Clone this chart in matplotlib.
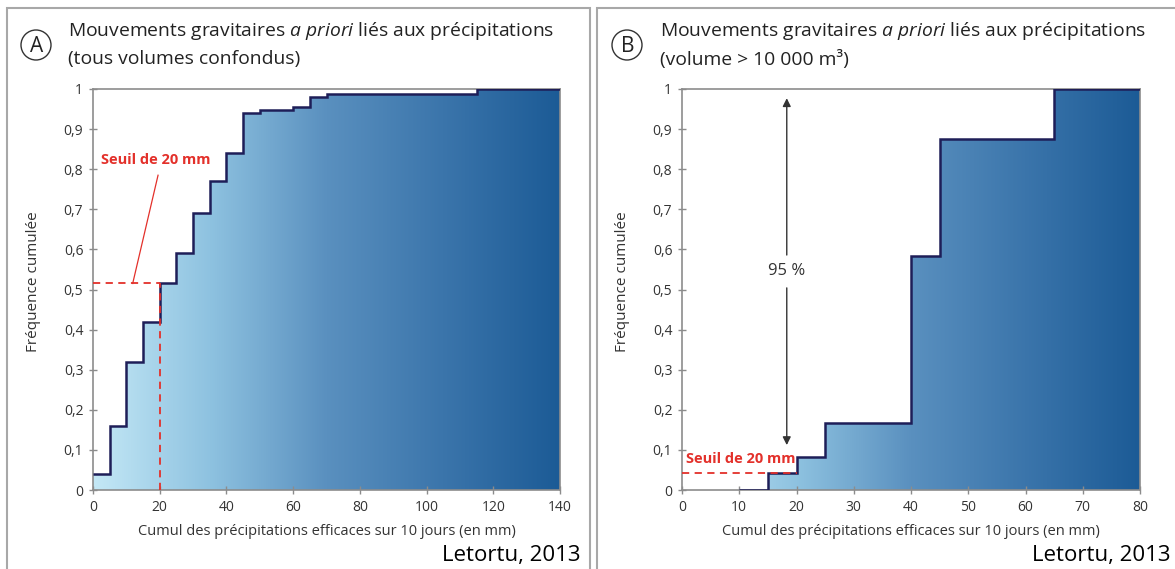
import numpy as np
import matplotlib
matplotlib.use("Agg")
import matplotlib.pyplot as plt
from matplotlib.colors import LinearSegmentedColormap
from matplotlib.patches import Rectangle, Circle

plt.rcParams['font.family'] = ['Open Sans', 'DejaVu Sans']
plt.rcParams['mathtext.fontset'] = 'custom'
plt.rcParams['mathtext.rm'] = 'Open Sans'
plt.rcParams['mathtext.it'] = 'Open Sans:italic'

# ---------------- data ----------------
a_edges = [0, 5, 10, 15, 20, 25, 30, 35, 40, 45, 50, 60, 65, 70, 115, 140]
a_freq = [0.04, 0.16, 0.32, 0.42, 0.515, 0.59, 0.69, 0.77, 0.84, 0.94, 0.947, 0.955, 0.98, 0.987, 1.0]
a_xticks = [0, 20, 40, 60, 80, 100, 120, 140]

b_edges = [10, 15, 20, 25, 40, 45, 65, 80]
b_freq = [0.0, 0.042, 0.083, 0.167, 0.583, 0.875, 1.0]
b_xticks = [0, 10, 20, 30, 40, 50, 60, 70, 80]

yticks = [0, 0.1, 0.2, 0.3, 0.4, 0.5, 0.6, 0.7, 0.8, 0.9, 1]
ytick_labels = ["0", "0,1", "0,2", "0,3", "0,4", "0,5", "0,6", "0,7", "0,8", "0,9", "1"]

threshold = 20

W, H = 1175, 569
fig = plt.figure(figsize=(W / 100, H / 100), dpi=100)
fig.patch.set_facecolor('white')

def px(x, y):
    return x / W, 1 - y / H

cmap = LinearSegmentedColormap.from_list(
    'grad', [(0, '#c4e8f6'), (0.25, '#8ec2e0'), (0.5, '#5a90bf'), (0.75, '#3b75ab'), (1, '#1c5b96')])

GRAY = '#8c8c8c'
TXT = '#333333'
RED = '#e3302a'
NAVY = '#1e1e58'

def make_axes(left_px, right_px, edges, freq, xmax, xticks):
    l, b = px(left_px, 490)
    r, t = px(right_px, 89)
    ax = fig.add_axes([l, b, r - l, t - b])
    ax.set_xlim(0, xmax)
    ax.set_ylim(0, 1)
    grad = np.linspace(0, 1, 256).reshape(1, -1)
    im = ax.imshow(grad, cmap=cmap, extent=[0, xmax, 0, 1], aspect='auto', zorder=1)
    sp = ax.stairs(freq, edges, fill=True, baseline=0, facecolor='none', edgecolor='none')
    im.set_clip_path(sp)
    ax.stairs(freq, edges, baseline=None, color=NAVY, linewidth=1.8, zorder=3)
    for s in ax.spines.values():
        s.set_color(GRAY)
        s.set_linewidth(1.2)
    ax.set_xticks(xticks)
    ax.set_xticklabels([str(v) for v in xticks])
    ax.set_yticks(yticks)
    ax.set_yticklabels(ytick_labels)
    ax.tick_params(direction='inout', length=6, width=1, color=GRAY, labelsize=10,
                   labelcolor=TXT, pad=4)
    ax.set_xlabel("Cumul des précipitations efficaces sur 10 jours (en mm)", fontsize=10.5,
                  color=TXT, labelpad=7)
    ax.set_ylabel("Fréquence cumulée", fontsize=11, color=TXT)
    ax.yaxis.set_label_coords(-52 / (right_px - left_px), 0.52)
    return ax

axA = make_axes(93, 560, a_edges, a_freq, 140, a_xticks)
axB = make_axes(682, 1140, b_edges, b_freq, 80, b_xticks)

# ---- panel A annotations ----
yA20 = a_freq[a_edges.index(threshold)]
axA.plot([0, threshold], [yA20, yA20], color=RED, lw=1.3, ls=(0, (4, 3)), zorder=4)
axA.plot([threshold, threshold], [0, yA20], color=RED, lw=1.3, ls=(0, (4, 3)), zorder=4)
axA.text(18.8, 0.823, "Seuil de 20 mm", color=RED, fontsize=10.5, fontweight='bold',
         ha='center', va='center', zorder=5)
axA.plot([19.5, 11.9], [0.785, yA20], color=RED, lw=0.9, zorder=4)

# ---- panel B annotations ----
axB.annotate("", xy=(18.3, 0.977), xytext=(18.3, 0.586),
             arrowprops=dict(arrowstyle='-|>', color=TXT, lw=1.0, mutation_scale=12,
                             shrinkA=0, shrinkB=0))
axB.annotate("", xy=(18.3, 0.112), xytext=(18.3, 0.504),
             arrowprops=dict(arrowstyle='-|>', color=TXT, lw=1.0, mutation_scale=12,
                             shrinkA=0, shrinkB=0))
axB.text(18.3, 0.545, "95 %", fontsize=12, color=TXT, ha='center', va='center')
axB.plot([0, threshold], [0.043, 0.043], color=RED, lw=1.3, ls=(0, (4, 3)), zorder=4)
axB.text(10.2, 0.078, "Seuil de 20 mm", color=RED, fontsize=10.5, fontweight='bold',
         ha='center', va='center', zorder=5)

# ---- frames, titles ----
for x0, x1 in [(7, 590), (597, 1185)]:
    l, t = px(x0, 8)
    r, b = px(x1, 580)
    fig.patches.append(Rectangle((l, b), r - l, t - b, transform=fig.transFigure,
                                 fill=False, edgecolor='#a8a8a8', lw=1.5))

for letter, cx, tx, sub in [("A", 36, 68, "(tous volumes confondus)"),
                            ("B", 627, 660, "(volume > 10 000 m³)")]:
    cxf, cyf = px(cx + 0.5, 46)
    fig.patches.append(Circle((cx, H - 45), 15, transform=None, fill=False,
                              edgecolor='#333333', lw=1.0))
    fig.text(cxf, cyf, letter, fontsize=15, ha='center', va='center', color='#222222')
    x, y = px(tx, 31)
    fig.text(x, y, r"Mouvements gravitaires $\mathit{a\ priori}$ liés aux précipitations",
             fontsize=13.9, ha='left', va='center', color='#222222')
    x, y = px(tx, 59)
    fig.text(x, y, sub, fontsize=13.9, ha='left', va='center', color='#222222')

for rx in [580, 1170]:
    x, y = px(rx, 556)
    fig.text(x, y, "Letortu, 2013", fontsize=16, ha='right', va='center', color='black')

fig.savefig("out.png", dpi=100, facecolor='white')
